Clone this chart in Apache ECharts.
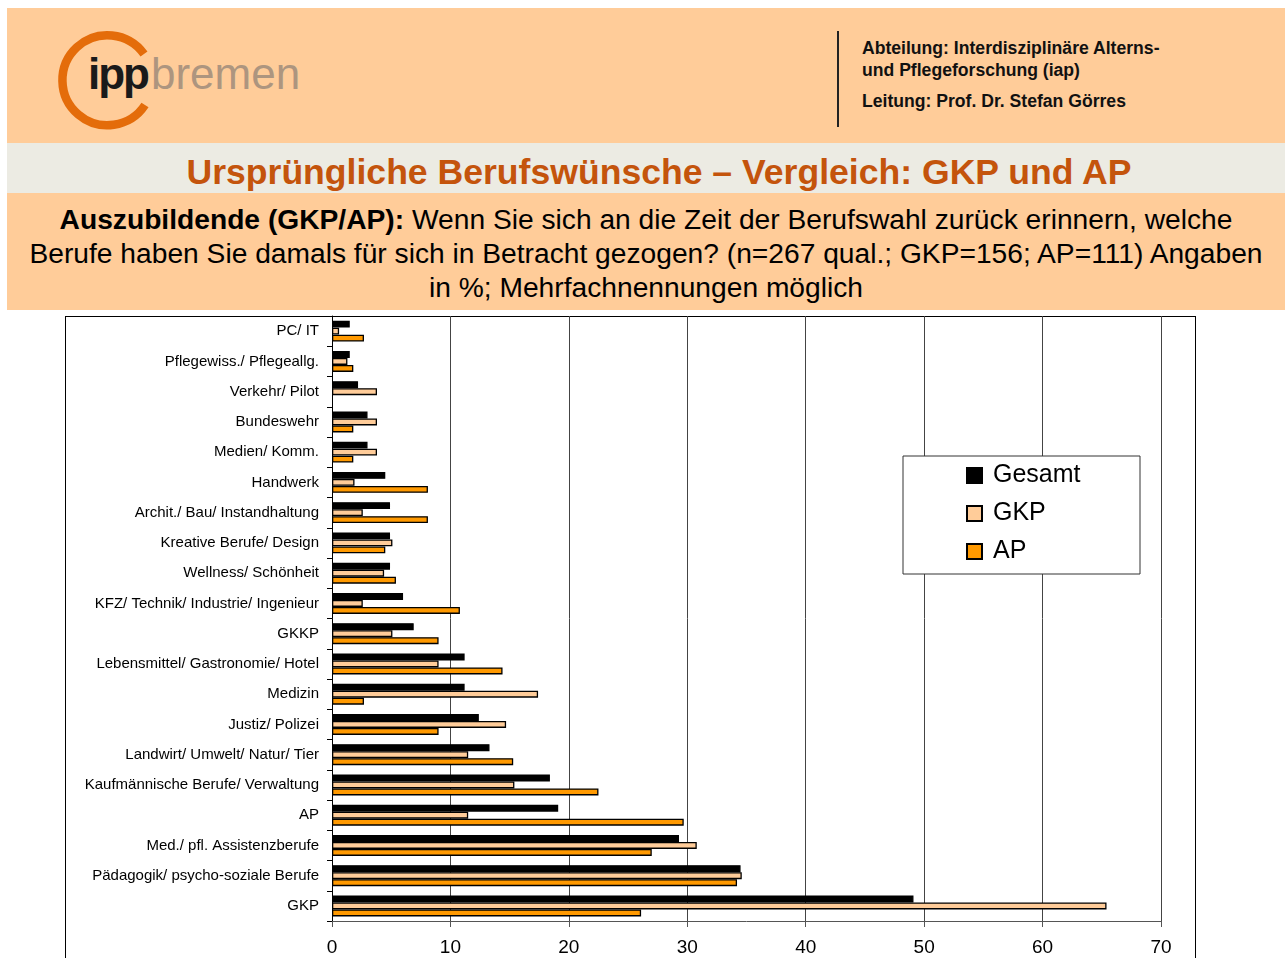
<!DOCTYPE html>
<html>
<head>
<meta charset="utf-8">
<script src="https://cdn.jsdelivr.net/npm/echarts@6/dist/echarts.min.js"></script>
<style>
  html, body { margin: 0; padding: 0; background: #fff; overflow: hidden; }
  body { width: 1285px; height: 958px; position: relative; font-family: "Liberation Sans", Arial, sans-serif; }
  .band { position: absolute; left: 7px; right: 0; }
  #head { top: 8px; height: 135px; background: #FFCC99; }
  #titleBand { top: 143px; height: 50px; background: #ECEBE3; }
  #questBand { top: 193px; height: 117px; background: #FFCC99; }
  #logoIpp { position: absolute; left: 88px; top: 49px; font-size: 44px; font-weight: bold; color: #1a1a1a; letter-spacing: -2px; }
  #logoBremen { position: absolute; left: 151px; top: 49px; font-size: 44px; color: #AD957F; }
  #sep { position: absolute; left: 837px; top: 31px; width: 2px; height: 96px; background: #222; }
  .inst { position: absolute; left: 862px; font-size: 17.6px; font-weight: bold; color: #111; white-space: nowrap; }
  #title { position: absolute; left: 0; width: 1318px; top: 152px; text-align: center; font-size: 35.6px; font-weight: bold; color: #C4540C; white-space: nowrap; }
  #quest { position: absolute; left: 0; width: 1292px; top: 202px; text-align: center; font-size: 28.2px; line-height: 34px; color: #000; white-space: nowrap; }
  #frame { position: absolute; left: 65px; top: 316px; width: 1129px; height: 700px; border: 1px solid #000; }
  #chart { position: absolute; left: 0; top: 310px; width: 1285px; height: 648px; }
</style>
</head>
<body>
<div class="band" id="head"></div>
<div class="band" id="titleBand"></div>
<div class="band" id="questBand"></div>

<svg style="position:absolute;left:0;top:0" width="200" height="140">
  <path d="M 144 54 A 45 45 0 1 0 145 105" fill="none" stroke="#E46C0A" stroke-width="8.5"/>
</svg>
<div id="logoIpp">ipp</div>
<div id="logoBremen">bremen</div>

<div id="sep"></div>
<div class="inst" style="top:38px">Abteilung: Interdisziplinäre Alterns-</div>
<div class="inst" style="top:60px">und Pflegeforschung (iap)</div>
<div class="inst" style="top:91px">Leitung: Prof. Dr. Stefan Görres</div>

<div id="title">Ursprüngliche Berufswünsche – Vergleich: GKP und AP</div>
<div id="quest"><b>Auszubildende (GKP/AP):</b> Wenn Sie sich an die Zeit der Berufswahl zurück erinnern, welche<br>Berufe haben Sie damals für sich in Betracht gezogen? (n=267 qual.; GKP=156; AP=111) Angaben<br>in %; Mehrfachnennungen möglich</div>

<div id="frame"></div>
<div id="chart"></div>

<script>
// Kategorien (von oben nach unten)
var categories = [
  "PC/ IT", "Pflegewiss./ Pflegeallg.", "Verkehr/ Pilot", "Bundeswehr", "Medien/ Komm.",
  "Handwerk", "Archit./ Bau/ Instandhaltung", "Kreative Berufe/ Design", "Wellness/ Schönheit",
  "KFZ/ Technik/ Industrie/ Ingenieur", "GKKP", "Lebensmittel/ Gastronomie/ Hotel", "Medizin",
  "Justiz/ Polizei", "Landwirt/ Umwelt/ Natur/ Tier", "Kaufmännische Berufe/ Verwaltung", "AP",
  "Med./ pfl. Assistenzberufe", "Pädagogik/ psycho-soziale Berufe", "GKP"
];
var gesamt = [1.5, 1.5, 2.2, 3.0, 3.0, 4.5, 4.9, 4.9, 4.9, 6.0, 6.9, 11.2, 11.2, 12.4, 13.3, 18.4, 19.1, 29.3, 34.5, 49.1];
var gkp    = [0.6, 1.3, 3.8, 3.8, 3.8, 1.9, 2.6, 5.1, 4.4, 2.6, 5.1, 9.0, 17.4, 14.7, 11.5, 15.4, 11.5, 30.8, 34.6, 65.4];
var ap     = [2.7, 1.8, 0, 1.8, 1.8, 8.1, 8.1, 4.5, 5.4, 10.8, 9.0, 14.4, 2.7, 9.0, 15.3, 22.5, 29.7, 27.0, 34.2, 26.1];
var xTicks = [0, 10, 20, 30, 40, 50, 60, 70];

var chart = echarts.init(document.getElementById("chart"));

function barSeries(name, data, color) {
  return {
    name: name,
    type: "bar",
    // Nullwerte ohne Rahmen, sonst bleibt ein Strich an der Achse
    data: data.map(function(v) {
      return v === 0 ? { value: 0, itemStyle: { borderWidth: 0 } } : v;
    }),
    barWidth: 7,
    barGap: "0%",
    itemStyle: { color: color, borderColor: "#000", borderWidth: 1.3 },
    animation: false
  };
}

chart.setOption({
  textStyle: { fontFamily: "Liberation Sans, Arial, sans-serif" },
  grid: { left: 332, right: 124, top: 6, bottom: 37 },
  xAxis: {
    type: "value",
    min: xTicks[0],
    max: xTicks[xTicks.length - 1],
    interval: 10,
    axisLine: { show: true, lineStyle: { color: "#555", width: 1 } },
    axisTick: { show: true, length: 6, lineStyle: { color: "#555" } },
    axisLabel: { fontSize: 19, color: "#000", margin: 17 },
    splitLine: { show: true, lineStyle: { color: "#444", width: 1 } }
  },
  yAxis: {
    type: "category",
    inverse: true,
    data: categories,
    axisLine: { show: true, lineStyle: { color: "#000", width: 1 } },
    axisTick: { show: true, length: 5, inside: false, lineStyle: { color: "#000" } },
    axisLabel: { fontSize: 15, color: "#000", margin: 13 }
  },
  legend: {
    orient: "vertical",
    left: 966,
    top: 153,
    padding: 0,
    itemWidth: 15,
    itemHeight: 15,
    itemGap: 13,
    icon: "rect",
    selectedMode: false,
    textStyle: { fontSize: 25, color: "#000", padding: [0, 0, 0, 6] },
    data: ["Gesamt", "GKP", "AP"],
    z: 10
  },
  graphic: [{
    type: "rect",
    z: 5,
    shape: { x: 903, y: 146, width: 237, height: 118 },
    style: { fill: "#fff", stroke: "#333", lineWidth: 1 }
  }],
  series: [
    barSeries("Gesamt", gesamt, "#000"),
    barSeries("GKP", gkp, "#FFCC99"),
    barSeries("AP", ap, "#FF9900")
  ]
});
</script>
</body>
</html>
